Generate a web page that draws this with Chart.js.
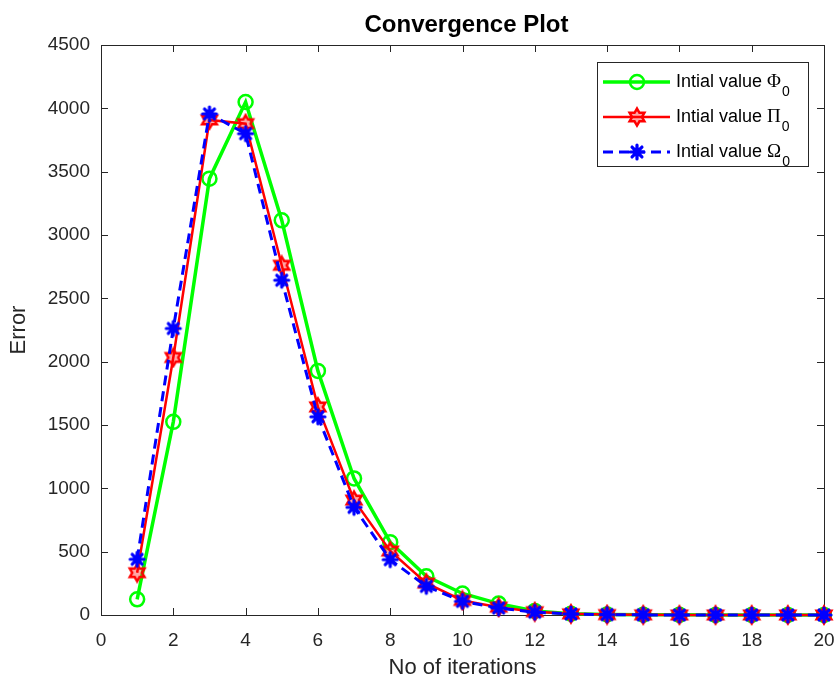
<!DOCTYPE html>
<html>
<head>
<meta charset="utf-8">
<script src="https://cdn.jsdelivr.net/npm/chart.js@4.4.1/dist/chart.umd.min.js"></script>
<style>
  html, body { margin: 0; padding: 0; background: #fff; }
  #wrap { width: 838px; height: 681px; position: relative; }
</style>
</head>
<body>
<div id="wrap"><canvas id="stage"></canvas></div>
<script>
// iterations and error of the three start values
let iterations = [1,2,3,4,5,6,7,8,9,10,11,12,13,14,15,16,17,18,19,20];
let errPhi   = [124,1525,3445,4050,3116,1927,1078,575,305,170,90,32,10,4,2,1,0,0,0,0];
let errPi    = [334,2033,3908,3879,2761,1643,907,505,252,115,62,26,9,3,1,0,0,0,0,0];
let errOmega = [440,2262,3956,3800,2643,1565,850,437,226,108,55,22,8,3,1,0,0,0,0,0];
let xTicks = [0,2,4,6,8,10,12,14,16,18,20];
let yTicks = [0,500,1000,1500,2000,2500,3000,3500,4000,4500];
let seriesNames = ['Intial value \u03A6', 'Intial value \u03A0', 'Intial value \u03A9'];

const FONT = '"Liberation Sans", Arial, sans-serif';
const GREEN = '#00ff00', RED = '#ff0000', BLUE = '#0000ff';

function pts(vals) {
  return iterations.map((x, i) => ({x: x, y: vals[i]}));
}

// hexagram marker (red)
function makeHexagram() {
  let c = document.createElement('canvas');
  c.width = 22; c.height = 22;
  let g = c.getContext('2d');
  let R = 8.5, r = R / Math.sqrt(3);
  g.beginPath();
  for (let k = 0; k < 12; k++) {
    let a = (-90 + k * 30) * Math.PI / 180;
    let rad = k % 2 == 0 ? R : r;
    let px = 11 + rad * Math.cos(a), py = 11 + rad * Math.sin(a);
    if (k == 0) g.moveTo(px, py); else g.lineTo(px, py);
  }
  g.closePath();
  g.strokeStyle = RED;
  g.lineWidth = 2.5;
  g.stroke();
  g.fillStyle = 'rgba(255,0,0,0.35)';
  g.fill();
  return c;
}

// thick asterisk marker (blue)
function makeAsterisk() {
  let c = document.createElement('canvas');
  c.width = 20; c.height = 20;
  let g = c.getContext('2d');
  g.strokeStyle = BLUE;
  g.lineWidth = 3.2;
  g.lineCap = 'round';
  for (let k = 0; k < 4; k++) {
    let a = k * Math.PI / 4;
    g.beginPath();
    g.moveTo(10 - 7 * Math.cos(a), 10 - 7 * Math.sin(a));
    g.lineTo(10 + 7 * Math.cos(a), 10 + 7 * Math.sin(a));
    g.stroke();
  }
  g.fillStyle = BLUE;
  g.beginPath(); g.arc(10, 10, 4.5, 0, Math.PI * 2); g.fill();
  return c;
}

let hexMarker = makeHexagram();
let astMarker = makeAsterisk();

var mydata = {
  datasets: [
    {
      label: seriesNames[0],
      data: pts(errPhi),
      borderColor: GREEN,
      borderWidth: 3.5,
      pointStyle: 'circle',
      pointRadius: 7,
      pointBorderWidth: 2.5,
      pointBorderColor: GREEN,
      pointBackgroundColor: 'rgba(0,0,0,0)',
      order: 2
    },
    {
      label: seriesNames[1],
      data: pts(errPi),
      borderColor: RED,
      borderWidth: 2.5,
      pointStyle: hexMarker,
      order: 1
    },
    {
      label: seriesNames[2],
      data: pts(errOmega),
      borderColor: BLUE,
      borderWidth: 3,
      borderDash: [10, 6],
      pointStyle: astMarker,
      order: 0
    }
  ]
};

// MATLAB style box, inward ticks, title and legend
const matlabFrame = {
  id: 'matlabFrame',
  beforeDatasetsDraw(chart) {
    const {ctx, chartArea: a, scales} = chart;
    ctx.save();
    ctx.strokeStyle = '#262626';
    ctx.lineWidth = 1;
    ctx.strokeRect(Math.round(a.left) + 0.5, Math.round(a.top) + 0.5,
                   Math.round(a.right - a.left), Math.round(a.bottom - a.top));
    const tl = 7;
    ctx.beginPath();
    xTicks.forEach(v => {
      let px = Math.round(scales.x.getPixelForValue(v)) + 0.5;
      ctx.moveTo(px, a.bottom); ctx.lineTo(px, a.bottom - tl);
      ctx.moveTo(px, a.top); ctx.lineTo(px, a.top + tl);
    });
    yTicks.forEach(v => {
      let py = Math.round(scales.y.getPixelForValue(v)) + 0.5;
      ctx.moveTo(a.left, py); ctx.lineTo(a.left + tl, py);
      ctx.moveTo(a.right, py); ctx.lineTo(a.right - tl, py);
    });
    ctx.stroke();
    ctx.restore();
  },
  afterDraw(chart) {
    const {ctx, chartArea: a} = chart;
    ctx.save();
    // title
    ctx.fillStyle = '#000';
    ctx.font = 'bold 24px ' + FONT;
    ctx.textAlign = 'center';
    ctx.textBaseline = 'middle';
    ctx.fillText('Convergence Plot', (a.left + a.right) / 2 + 4, 25);

    // legend
    const bx = 597, by = 62, bw = 211, bh = 104;
    ctx.fillStyle = '#fff';
    ctx.fillRect(bx, by, bw, bh);
    ctx.strokeStyle = '#262626';
    ctx.lineWidth = 1;
    ctx.strokeRect(bx + 0.5, by + 0.5, bw, bh);
    const rows = [82, 117, 152];
    const ds = chart.data.datasets;
    rows.forEach((ry, i) => {
      let d = ds[i];
      ctx.save();
      ctx.strokeStyle = d.borderColor;
      ctx.lineWidth = d.borderWidth;
      ctx.setLineDash(d.borderDash || []);
      ctx.beginPath();
      ctx.moveTo(603, ry); ctx.lineTo(670, ry);
      ctx.stroke();
      ctx.setLineDash([]);
      if (i == 0) {
        ctx.lineWidth = 2.5;
        ctx.beginPath(); ctx.arc(637, ry, 7, 0, Math.PI * 2); ctx.stroke();
      } else {
        let img = d.pointStyle;
        ctx.drawImage(img, 637 - img.width / 2, ry - img.height / 2);
      }
      ctx.restore();
      ctx.fillStyle = '#000';
      ctx.textAlign = 'left';
      ctx.textBaseline = 'middle';
      ctx.font = '18px ' + FONT;
      let txt = 'Intial value ';
      ctx.fillText(txt, 676, ry);
      let w = ctx.measureText(txt).width;
      ctx.font = '19px "Liberation Serif", "DejaVu Serif", serif';
      let greek = seriesNames[i].slice(-1);
      ctx.fillText(greek, 676 + w, ry);
      let gw = ctx.measureText(greek).width;
      ctx.font = '14px ' + FONT;
      ctx.fillText('0', 676 + w + gw + 1, ry + 10);
    });
    ctx.restore();
  }
};

var options = {
  responsive: true,
  maintainAspectRatio: false,
  animation: false,
  layout: { padding: { top: 45, right: 14, left: 0, bottom: 0 } },
  plugins: {
    legend: { display: false },
    title: { display: false },
    tooltip: { enabled: false }
  },
  elements: {
    line: { tension: 0, fill: false },
    point: { radius: 8, hoverRadius: 8 }
  },
  datasets: { line: { clip: false } },
  scales: {
    x: {
      type: 'linear',
      min: 0, max: 20,
      afterBuildTicks: s => { s.ticks = xTicks.map(v => ({value: v})); },
      afterFit: s => { s.height = 66; s.paddingLeft = 0; s.paddingRight = 0; },
      grid: { display: false, drawTicks: false },
      border: { display: false },
      ticks: { color: '#262626', font: { family: FONT, size: 19 }, padding: 14, maxRotation: 0,
               callback: v => String(v) },
      title: { display: true, text: 'No of iterations', color: '#262626',
               font: { family: FONT, size: 22 }, padding: { top: 0, bottom: 0 } }
    },
    y: {
      min: 0, max: 4500,
      afterBuildTicks: s => { s.ticks = yTicks.map(v => ({value: v})); },
      afterFit: s => { s.width = 101; s.paddingTop = 0; s.paddingBottom = 0; },
      grid: { display: false, drawTicks: false },
      border: { display: false },
      ticks: { color: '#262626', font: { family: FONT, size: 19 }, padding: 11,
               callback: v => String(v) },
      title: { display: true, text: 'Error', color: '#262626',
               font: { family: FONT, size: 22 }, padding: { top: 6, bottom: 6 } }
    }
  }
};

var canvas = document.getElementById('stage');
var chart = new Chart(canvas, {
  type: 'line',
  data: mydata,
  options: options,
  plugins: [matlabFrame]
});
</script>
</body>
</html>
